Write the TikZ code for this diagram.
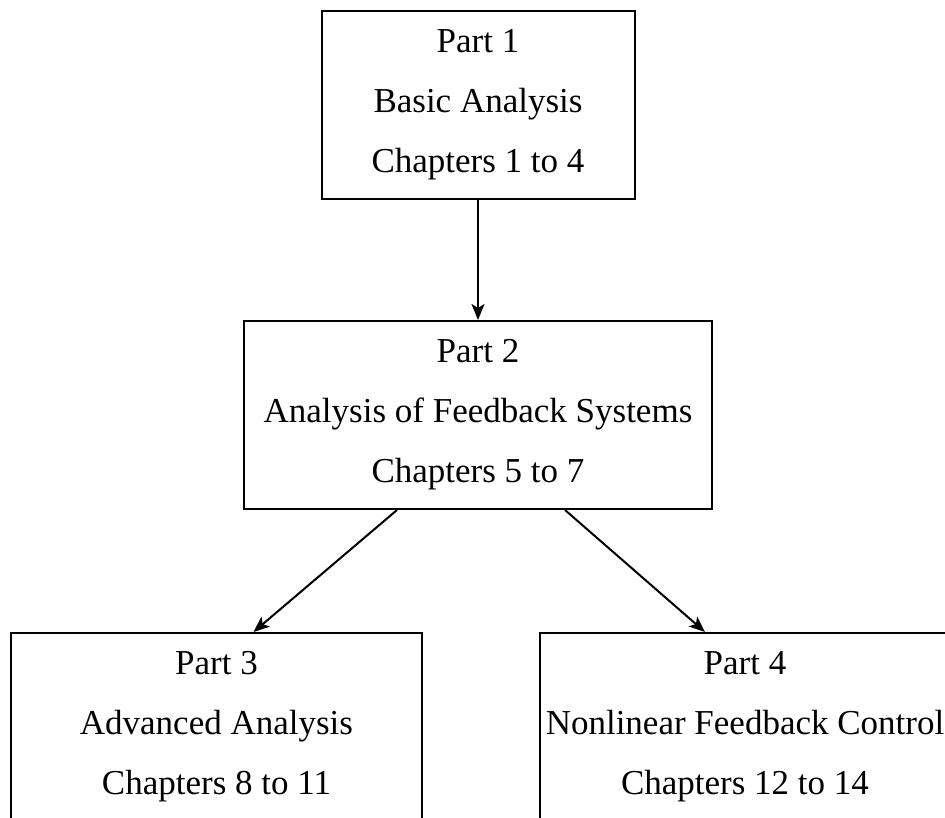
\documentclass[tikz,border=0pt]{standalone}
\usepackage{fontspec}
\setmainfont{Liberation Serif}
\usetikzlibrary{arrows.meta}
\tikzset{
	part/.style={draw, line width=2pt, minimum height=188pt, inner sep=0pt,
		align=center, font=\fontsize{35}{60}\selectfont},
	link/.style={-{Stealth[length=16pt,width=13pt,inset=4pt]}, line width=2pt}
}
\begin{document}
\begin{tikzpicture}[x=1pt,y=-1pt]
			\clip (0,0) rectangle (945,818);
			\node[part, minimum width=313pt] (P1) at (478,105) {Part 1\\Basic Analysis\\Chapters 1 to 4};
			\node[part, minimum width=468pt] (P2) at (478,415) {Part 2\\Analysis of Feedback Systems\\Chapters 5 to 7};
			\node[part, minimum width=411pt] (P3) at (216.5,727) {Part 3\\Advanced Analysis\\Chapters 8 to 11};
			\node[part, minimum width=410pt] (P4) at (745,727) {Part 4\\Nonlinear Feedback Control\\Chapters 12 to 14};
	
			\draw[link] (P1) -- (P2);
			\draw[link] ([xshift=-81pt]P2.south) -- ([xshift=37pt]P3.north);
			\draw[link] ([xshift=87pt]P2.south) -- ([xshift=-40pt]P4.north);
		\end{tikzpicture}
\end{document}
